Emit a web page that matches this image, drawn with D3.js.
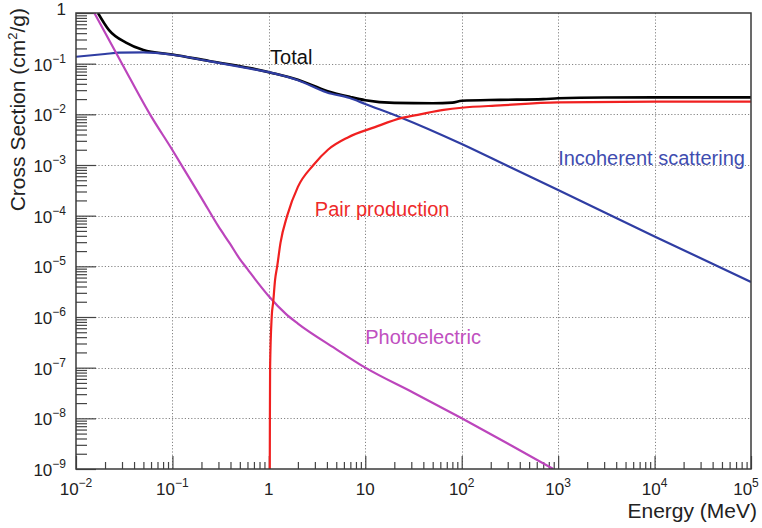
<!DOCTYPE html>
<html>
<head>
<meta charset="utf-8">
<script src="https://cdn.jsdelivr.net/npm/d3@7.9.0/dist/d3.min.js"></script>
<style>
    html, body { margin: 0; padding: 0; background: #fff; }
    svg { display: block; font-family: "Liberation Sans", Arial, Helvetica, sans-serif; }
</style>
</head>
<body>
<svg id="chart" width="762" height="528"></svg>
<script>
// photon energy (MeV) and mass cross section (cm2/g)
var photoE = [0.0155, 0.03, 0.0585, 0.0995, 0.15, 0.201, 0.299, 0.395, 0.494, 0.598, 0.778, 1.01, 1.5, 2.0, 4.85, 10, 31.6, 100, 316, 890]
var photoXs = [1.0, 0.1, 0.01, 2e-3, 5.5e-4, 2.2e-4, 6.2e-5, 2.8e-5, 1.44e-5, 8.9e-6, 4.6e-6, 2.5e-6, 1.15e-6, 7.4e-7, 2.4e-7, 1e-7, 3.2e-8, 1e-8, 3.0e-9, 1e-9]

var incohE = [0.01, 0.02, 0.028, 0.05, 0.1, 0.24, 0.64, 1, 2, 4, 6.9, 10, 24, 100, 316, 1000, 1e4, 1e5]
var incohXs = [0.137, 0.155, 0.165, 0.167, 0.15, 0.112, 0.08, 0.068, 0.047, 0.027, 0.021, 0.016, 0.0085, 0.0026, 9.1e-4, 3.2e-4, 3.9e-5, 4.9e-6]

var pairE = [1.0225, 1.025, 1.03, 1.07, 1.11, 1.16, 1.22, 1.32, 1.55, 2.0, 2.9, 4.1, 6.6, 12.6, 24, 37, 65, 100, 250, 1000, 1e4, 1e5]
var pairXs = [1e-9, 1e-8, 1e-7, 1e-6, 2e-6, 5.4e-6, 1e-5, 2.9e-5, 1e-4, 3.7e-4, 1e-3, 2e-3, 3.5e-3, 5.6e-3, 8.5e-3, 0.01, 0.0122, 0.0135, 0.015, 0.0172, 0.0178, 0.0178]

var totalE = [0.0169, 0.022, 0.033, 0.05, 0.1, 0.24, 0.64, 1.1, 2, 4, 7, 10, 20, 50, 80, 100, 250, 700, 1000, 3000, 1e4, 1e5]
var totalXs = [1.0, 0.46, 0.26, 0.186, 0.152, 0.113, 0.082, 0.065, 0.048, 0.029, 0.022, 0.019, 0.0168, 0.0165, 0.017, 0.0185, 0.0193, 0.02, 0.0207, 0.0215, 0.0216, 0.0216]

// decade exponents for the tick labels
var xTickExp = [-2, -1, 0, 1, 2, 3, 4, 5]
var yTickExp = [0, -1, -2, -3, -4, -5, -6, -7, -8, -9]

var seriesNames = ['Incoherent scattering', 'Pair production', 'Photoelectric', 'Total']
var seriesColors = ['#2f3da3', '#f02020', '#bc45bc', '#000000']
var labelColors = ['#3f4db0', '#ee2a2a', '#c050c0', '#111111']
// where each curve label starts, in data units (E, sigma)
var labelE = [1000, 3.0, 10, 1.03]
var labelXs = [1e-3, 1e-4, 2.9e-7, 0.098]

;(function () {
    var W = 762, H = 528
    var m = { top: 13, right: 11, bottom: 59, left: 76 }

    var x = d3.scaleLog().domain([1e-2, 1e5]).range([m.left, W - m.right])
    var y = d3.scaleLog().domain([1e-9, 1]).range([H - m.bottom, m.top])

    var svg = d3.select('#chart')

    function minors(lo, hi) {
        var out = []
        for (var d = lo; d < hi; d++) {
            for (var k = 2; k <= 9; k++) out.push(k * Math.pow(10, d))
        }
        return out
    }
    var xMajor = xTickExp.map(function (e) { return Math.pow(10, e) })
    var yMajor = yTickExp.map(function (e) { return Math.pow(10, e) })

    // grid (interior decades only)
    var grid = svg.append('g')
        .attr('stroke', '#858585')
        .attr('stroke-width', 1)
        .attr('stroke-dasharray', '1.2,2')
    grid.selectAll('line.vx')
        .data(xMajor.slice(1, -1))
        .join('line')
        .attr('x1', function (d) { return Math.round(x(d)) + 0.5 })
        .attr('x2', function (d) { return Math.round(x(d)) + 0.5 })
        .attr('y1', m.top)
        .attr('y2', H - m.bottom)
    grid.selectAll('line.hy')
        .data(yMajor.slice(1, -1))
        .join('line')
        .attr('y1', function (d) { return Math.round(y(d)) + 0.5 })
        .attr('y2', function (d) { return Math.round(y(d)) + 0.5 })
        .attr('x1', m.left)
        .attr('x2', W - m.right)

    // ticks, pointing into the frame like ROOT
    function tickAxis(axis, vals, size, tr) {
        var g = svg.append('g')
            .attr('transform', tr)
            .call(axis.tickValues(vals).tickSize(-size).tickFormat(''))
        g.select('.domain').remove()
        g.selectAll('line').attr('stroke', '#444').attr('stroke-width', 1.2)
        return g
    }
    tickAxis(d3.axisBottom(x), xMajor, 13, 'translate(0,' + (H - m.bottom) + ')')
    tickAxis(d3.axisBottom(x), minors(-2, 5), 7, 'translate(0,' + (H - m.bottom) + ')')
    tickAxis(d3.axisLeft(y), yMajor, 20, 'translate(' + m.left + ',0)')
    tickAxis(d3.axisLeft(y), minors(-9, 0), 11, 'translate(' + m.left + ',0)')

    // curves
    svg.append('clipPath').attr('id', 'plot-clip')
        .append('rect')
        .attr('x', m.left).attr('y', m.top)
        .attr('width', W - m.left - m.right)
        .attr('height', H - m.top - m.bottom)

    var line = d3.line()
        .x(function (d) { return x(d[0]) })
        .y(function (d) { return y(d[1]) })
        .curve(d3.curveMonotoneX)

    var series = [
        d3.zip(incohE, incohXs),
        d3.zip(pairE, pairXs),
        d3.zip(photoE, photoXs),
        d3.zip(totalE, totalXs),
    ]
    var curves = svg.append('g').attr('clip-path', 'url(#plot-clip)')
    // total first so the components sit on top of it where they merge
    ;[3, 0, 2, 1].forEach(function (i) {
        curves.append('path')
            .attr('d', line(series[i]))
            .attr('fill', 'none')
            .attr('stroke', seriesColors[i])
            .attr('stroke-width', i === 3 ? 2.6 : 2.2)
            .attr('stroke-linejoin', 'round')
    })

    // frame
    svg.append('rect')
        .attr('x', m.left).attr('y', m.top)
        .attr('width', W - m.left - m.right)
        .attr('height', H - m.top - m.bottom)
        .attr('fill', 'none')
        .attr('stroke', '#3a3a3a')
        .attr('stroke-width', 1.5)

    // tick labels as 10^n
    function powLabel(sel, e) {
        if (e === 0) { sel.append('tspan').text('1'); return }
        if (e === 1) { sel.append('tspan').text('10'); return }
        sel.append('tspan').text('10')
        sel.append('tspan')
            .attr('font-size', 12)
            .attr('dy', -8)
            .text(String(e).replace('-', '\u2212'))
    }
    xTickExp.forEach(function (e, i) {
        var last = i === xTickExp.length - 1
        var t = svg.append('text')
            .attr('x', x(Math.pow(10, e)) - (last ? 5 : 0))
            .attr('y', H - m.bottom + 26)
            .attr('text-anchor', 'middle')
            .attr('font-size', 17)
            .attr('fill', '#222')
        powLabel(t, e)
    })
    yTickExp.forEach(function (e) {
        var t = svg.append('text')
            .attr('x', m.left - 10)
            .attr('y', y(Math.pow(10, e)) + (e === 0 ? 2 : 7))
            .attr('text-anchor', 'end')
            .attr('font-size', 17)
            .attr('fill', '#222')
        powLabel(t, e)
    })

    // axis titles
    svg.append('text')
        .attr('x', 757)
        .attr('y', 518)
        .attr('text-anchor', 'end')
        .attr('font-size', 21)
        .attr('fill', '#222')
        .text('Energy (MeV)')

    var yt = svg.append('text')
        .attr('transform', 'translate(25,8) rotate(-90)')
        .attr('text-anchor', 'end')
        .attr('font-size', 21)
        .attr('fill', '#222')
    yt.append('tspan').text('Cross Section (cm')
    yt.append('tspan').attr('font-size', 13).attr('dy', -8).text('2')
    yt.append('tspan').attr('dy', 8).text('/g)')

    // curve labels
    seriesNames.forEach(function (name, i) {
        svg.append('text')
            .attr('x', x(labelE[i]))
            .attr('y', y(labelXs[i]))
            .attr('font-size', 20)
            .attr('fill', labelColors[i])
            .text(name)
    })
})()
</script>
</body>
</html>
